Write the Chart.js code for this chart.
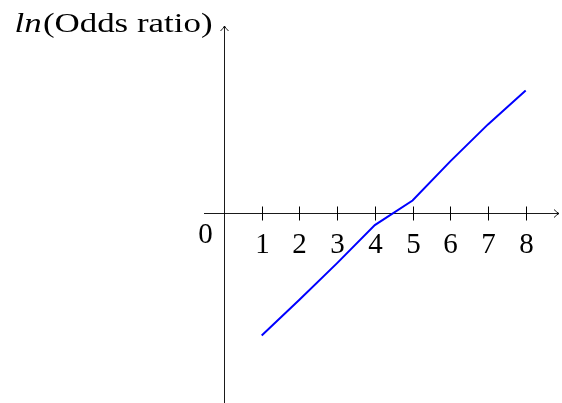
<!DOCTYPE html>
<html>
<head>
<meta charset="utf-8">
<script src="https://cdn.jsdelivr.net/npm/chart.js@4"></script>
<style>
  html, body { margin: 0; padding: 0; background: #fff; }
  #wrap { width: 562px; height: 403px; }
</style>
</head>
<body>
<div id="wrap"><canvas id="oddsChart"></canvas></div>
<script>
const xValues = [1, 2, 3, 4, 5, 6, 7, 8];
const logOdds = [-3.25, -2.3, -1.33, -0.32, 0.33, 1.37, 2.35, 3.25];
const xTickLabels = ['1', '2', '3', '4', '5', '6', '7', '8'];
const originLabel = '0';
const yTitleItalic = 'ln';
const yTitleRest = '(Odds ratio)';

const FONT = '"Liberation Serif", "DejaVu Serif", serif';

// axes through the origin, tikz style, drawn from the chart's own scales
const axesPlugin = {
    id: 'originAxes',
    beforeDatasetsDraw(chart) {
        const { ctx, chartArea, scales: { x, y } } = chart;
        const x0 = Math.round(x.getPixelForValue(0)) + 0.5;
        const y0 = Math.round(y.getPixelForValue(0)) + 0.5;
        ctx.save();
        ctx.strokeStyle = '#000';
        ctx.lineWidth = 0.9;

        // x axis
        ctx.beginPath();
        ctx.moveTo(chartArea.left, y0);
        ctx.lineTo(chartArea.right - 1, y0);
        ctx.stroke();
        // x arrow
        const ax = chartArea.right - 1;
        ctx.beginPath();
        ctx.moveTo(ax - 5, y0 - 4);
        ctx.quadraticCurveTo(ax - 2, y0 - 1, ax, y0);
        ctx.quadraticCurveTo(ax - 2, y0 + 1, ax - 5, y0 + 4);
        ctx.stroke();

        // y axis
        ctx.beginPath();
        ctx.moveTo(x0, chartArea.bottom);
        ctx.lineTo(x0, chartArea.top);
        ctx.stroke();
        // y arrow
        const ay = chartArea.top;
        ctx.beginPath();
        ctx.moveTo(x0 - 4, ay + 5);
        ctx.quadraticCurveTo(x0 - 1, ay + 2, x0, ay);
        ctx.quadraticCurveTo(x0 + 1, ay + 2, x0 + 4, ay + 5);
        ctx.stroke();

        // ticks and labels
        ctx.lineWidth = 1;
        ctx.fillStyle = '#000';
        ctx.font = '29px ' + FONT;
        ctx.textAlign = 'center';
        ctx.textBaseline = 'alphabetic';
        xValues.forEach((v, i) => {
            const px = Math.round(x.getPixelForValue(v)) + 0.5;
            ctx.beginPath();
            ctx.moveTo(px, y0 - 7);
            ctx.lineTo(px, y0 + 7);
            ctx.stroke();
            ctx.fillText(xTickLabels[i], px, y0 + 39);
        });

        // origin label
        ctx.fillText(originLabel, x0 - 19, y0 + 29);

        // y axis title, right aligned next to the arrow, widened like CM type
        ctx.textAlign = 'left';
        ctx.font = '28px ' + FONT;
        const restW = ctx.measureText(yTitleRest).width;
        ctx.font = 'italic 28px ' + FONT;
        const lnW = ctx.measureText(yTitleItalic).width;
        const natural = restW + lnW + 1;
        const right = x0 - 12;
        const sx = 198 / natural;
        ctx.translate(right - natural * sx, 32);
        ctx.scale(sx, 1);
        ctx.fillText(yTitleItalic, 0, 0);
        ctx.font = '28px ' + FONT;
        ctx.fillText(yTitleRest, lnW + 1, 0);
        ctx.restore();
    }
};

const ctx = document.getElementById('oddsChart').getContext('2d');
new Chart(ctx, {
    type: 'line',
    data: {
        datasets: [{
            data: xValues.map((v, i) => ({ x: v, y: logOdds[i] })),
            borderColor: '#0000ff',
            borderWidth: 2,
            pointRadius: 0,
            tension: 0,
            fill: false
        }]
    },
    options: {
        responsive: true,
        maintainAspectRatio: false,
        animation: false,
        layout: { padding: { left: 204, right: 2, top: 26, bottom: 0 } },
        scales: {
            x: { type: 'linear', min: -0.53, max: 8.91, display: false },
            y: { type: 'linear', min: -5.04, max: 4.96, display: false }
        },
        plugins: {
            legend: { display: false },
            tooltip: { enabled: false }
        }
    },
    plugins: [axesPlugin]
});
</script>
</body>
</html>
